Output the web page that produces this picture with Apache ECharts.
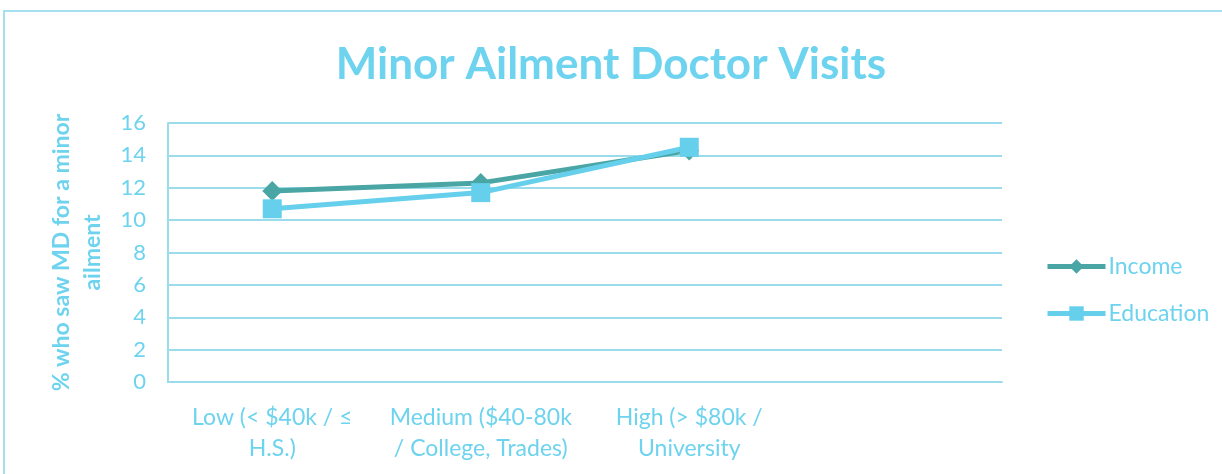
<!DOCTYPE html>
<html><head><meta charset="utf-8">
<script src="https://cdn.jsdelivr.net/npm/echarts@6/dist/echarts.min.js"></script>
<style>html,body{margin:0;padding:0;background:#fff}#c{width:1222px;height:474px}</style>
</head><body><div id="c"></div>
<script>
const categories = ['Low (< $40k / ≤\nH.S.)', 'Medium ($40-80k\n/ College, Trades)', 'High (> $80k /\nUniversity', ''];
const income = [11.8, 12.3, 14.3];
const education = [10.7, 11.7, 14.5];
const yTicks = {min: 0, max: 16, interval: 2};

const txt = '#6DD3EE';
const grid = '#9BDCEC';
const chart = echarts.init(document.getElementById('c'));
chart.setOption({
  animation: false,
  textStyle: {fontFamily: 'Lato'},
  title: {text: 'Minor Ailment Doctor Visits', left: 'center', top: 38,
    textStyle: {fontFamily: 'Lato', fontWeight: 'bold', fontSize: 44, color: txt}},
  graphic: [{type: 'rect', shape: {x: 4, y: 11, width: 1230, height: 480},
    style: {fill: 'none', stroke: '#A6DFEE', lineWidth: 2}, silent: true}],
  grid: {left: 168, right: 220, top: 123, bottom: 92, containLabel: false},
  legend: {orient: 'vertical', left: 1040, top: 250, itemGap: 24, itemWidth: 58, itemHeight: 18,
    lineStyle: {width: 5},
    textStyle: {color: txt, fontSize: 23, fontFamily: 'Lato', padding: [0, 0, 0, -2]},
    data: ['Income', 'Education']},
  xAxis: {type: 'category', data: categories, boundaryGap: true,
    axisLine: {lineStyle: {color: grid, width: 2}}, axisTick: {show: false},
    axisLabel: {color: txt, fontSize: 23, lineHeight: 31, margin: 20, interval: 0}},
  yAxis: {type: 'value', min: yTicks.min, max: yTicks.max, interval: yTicks.interval,
    name: '% who saw MD for a minor\nailment', nameLocation: 'middle', nameGap: 60, nameRotate: 90,
    nameTextStyle: {color: txt, fontSize: 23, fontWeight: 'bold', lineHeight: 31},
    axisLine: {show: true, lineStyle: {color: grid, width: 2}}, axisTick: {show: false},
    axisLabel: {color: txt, fontSize: 22, margin: 22},
    splitLine: {lineStyle: {color: grid, width: 2}}},
  series: [
    {name: 'Income', type: 'line', data: income, symbol: 'diamond', symbolSize: 20,
      lineStyle: {color: '#4AA6A4', width: 5}, itemStyle: {color: '#4AA6A4'}},
    {name: 'Education', type: 'line', data: education, symbol: 'rect', symbolSize: 19,
      lineStyle: {color: '#66D0EC', width: 5}, itemStyle: {color: '#66D0EC'}}
  ]
});
</script></body></html>
